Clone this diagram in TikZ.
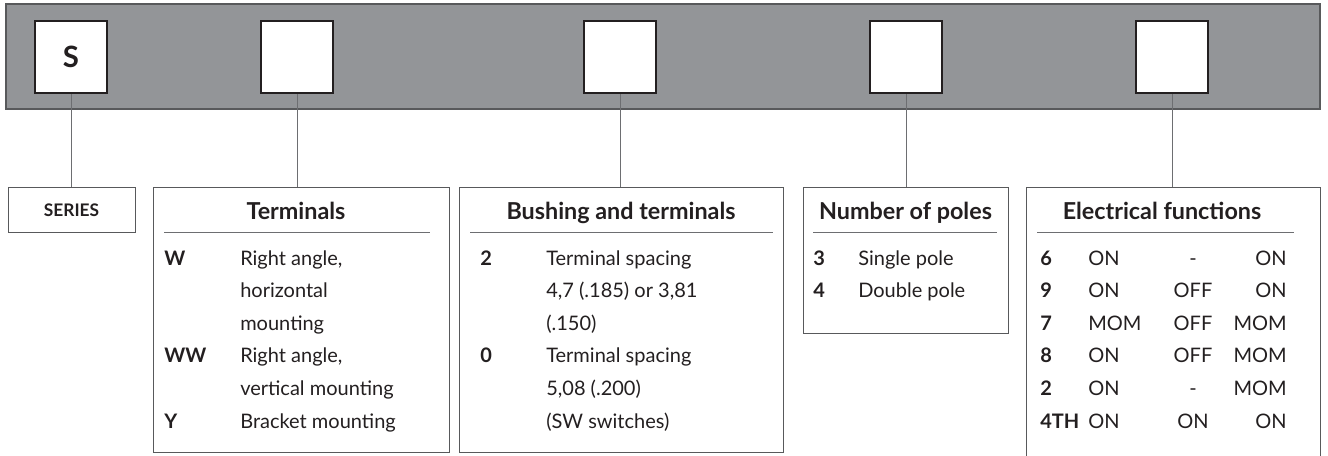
\documentclass[tikz,border=0pt]{standalone}
\usepackage{fontspec}
\setmainfont{Lato}
\definecolor{barfill}{HTML}{939598}
\definecolor{baredge}{HTML}{58595B}
\definecolor{ink}{HTML}{231F20}
\definecolor{lineg}{HTML}{6D6E71}
\begin{document}
\begin{tikzpicture}[x=0.75pt,y=-0.75pt,
  bar/.style={fill=barfill,draw=baredge,line width=0.8pt},
  sq/.style={draw=ink,fill=white,line width=2pt,minimum size=72*0.75pt,inner sep=0pt,text=ink,font=\bfseries\fontsize{22}{26}\selectfont},
  box/.style={draw=baredge,line width=0.7pt,inner sep=0pt,outer sep=0pt,anchor=north west},
  openbox/.style={inner sep=0pt,outer sep=0pt,anchor=north west},
  conn/.style={draw=lineg,line width=0.75pt},
  rule/.style={draw=lineg,line width=0.6pt},
  head/.style={anchor=base,inner sep=0pt,text=ink,font=\bfseries\fontsize{17.5}{21}\selectfont},
  key/.style={anchor=base west,inner sep=0pt,text=ink,font=\bfseries\fontsize{15}{18}\selectfont},
  desc/.style={anchor=base west,inner sep=0pt,text=ink,font=\fontsize{15}{18}\selectfont},
  descc/.style={desc,anchor=base},
  descr/.style={desc,anchor=base east}
]
\path[use as bounding box] (0,0) rectangle (1328,455);
\clip (0,0) rectangle (1328,455);
% bar and squares
\draw[bar] (6,4) rectangle (1320,109);
\node[sq] (s1) at (71,57) {S};
\node[sq] (s2) at (297,57) {};
\node[sq] (s3) at (620,57) {};
\node[sq] (s4) at (906,57) {};
\node[sq] (s5) at (1172,57) {};
% boxes
\node[box,minimum width=127*0.75pt,minimum height=45*0.75pt] (b1) at (8,187) {};
\node[box,minimum width=296*0.75pt,minimum height=265*0.75pt] (b2) at (153,187) {};
\node[box,minimum width=324*0.75pt,minimum height=265*0.75pt] (b3) at (459,187) {};
\node[box,minimum width=205*0.75pt,minimum height=146*0.75pt] (b4) at (803,187) {};
\node[openbox,minimum width=294*0.75pt,minimum height=290*0.75pt] (b5) at (1026,187) {};
\draw[draw=baredge,line width=0.7pt] (b5.south west) -- (b5.north west) -- (b5.north east) -- (b5.south east);
% connectors
\draw[conn] (s1.south) -- (s1.south |- b1.north);
\draw[conn] (s2.south) -- (s2.south |- b2.north);
\draw[conn] (s3.south) -- (s3.south |- b3.north);
\draw[conn] (s4.south) -- (s4.south |- b4.north);
\draw[conn] (s5.south) -- (s5.south |- b5.north);
% SERIES
\node[anchor=base,inner sep=0pt,text=ink,font=\bfseries\fontsize{13}{15}\selectfont] (series) at (71.5,216) {SERIES};
% headers
\node[head] (h2) at (296,219) {Terminals};
\node[head] (h3) at (621,219) {Bushing and terminals};
\node[head] (h4) at (905.5,219) {Number of poles};
\node[head] (h5) at (1162,219) {Electrical functions};
\coordinate (r2a) at (164,232); \coordinate (r2b) at (430,232);
\coordinate (r3a) at (470,232); \coordinate (r3b) at (773,232);
\coordinate (r4a) at (813,232); \coordinate (r4b) at (997,232);
\coordinate (r5a) at (1037,232); \coordinate (r5b) at (1294,232);
\draw[rule] (r2a) -- (r2b);
\draw[rule] (r3a) -- (r3b);
\draw[rule] (r4a) -- (r4b);
\draw[rule] (r5a) -- (r5b);
% Terminals rows
\node[key] (k21) at (164,265) {W};
\node[desc] (d21) at (240,265) {Right angle,};
\node[desc] (d22) at (240,297.6) {horizontal};
\node[desc] (d23) at (240,330.2) {mounting};
\node[key] (k24) at (164,362.8) {WW};
\node[desc] (d24) at (240,362.8) {Right angle,};
\node[desc] (d25) at (240,395.4) {vertical mounting};
\node[key] (k26) at (164,428) {Y};
\node[desc] (d26) at (240,428) {Bracket mounting};
% Bushing rows
\node[key] (k31) at (480,265) {2};
\node[desc] (d31) at (546,265) {Terminal spacing};
\node[desc] (d32) at (546,297.6) {4,7 (.185) or 3,81};
\node[desc] (d33) at (546,330.2) {(.150)};
\node[key] (k34) at (480,362.8) {0};
\node[desc] (d34) at (546,362.8) {Terminal spacing};
\node[desc] (d35) at (546,395.4) {5,08 (.200)};
\node[desc] (d36) at (546,428) {(SW switches)};
% Poles rows
\node[key] (k41) at (813,265) {3};
\node[desc] (d41) at (858,265) {Single pole};
\node[key] (k42) at (813,297.6) {4};
\node[desc] (d42) at (858,297.6) {Double pole};
% Electrical rows
\node[key] (k51) at (1040,265) {6};
\node[desc] (e51a) at (1088,265) {ON};
\node[descc] (e51b) at (1193,265) {-};
\node[descr] (e51c) at (1287,265) {ON};
\node[key] (k52) at (1040,297.6) {9};
\node[desc] (e52a) at (1088,297.6) {ON};
\node[descc] (e52b) at (1193,297.6) {OFF};
\node[descr] (e52c) at (1287,297.6) {ON};
\node[key] (k53) at (1040,330.2) {7};
\node[desc] (e53a) at (1088,330.2) {MOM};
\node[descc] (e53b) at (1193,330.2) {OFF};
\node[descr] (e53c) at (1287,330.2) {MOM};
\node[key] (k54) at (1040,362.8) {8};
\node[desc] (e54a) at (1088,362.8) {ON};
\node[descc] (e54b) at (1193,362.8) {OFF};
\node[descr] (e54c) at (1287,362.8) {MOM};
\node[key] (k55) at (1040,395.4) {2};
\node[desc] (e55a) at (1088,395.4) {ON};
\node[descc] (e55b) at (1193,395.4) {-};
\node[descr] (e55c) at (1287,395.4) {MOM};
\node[key] (k56) at (1040,428) {4TH};
\node[desc] (e56a) at (1088,428) {ON};
\node[descc] (e56b) at (1193,428) {ON};
\node[descr] (e56c) at (1287,428) {ON};
\end{tikzpicture}
\end{document}
